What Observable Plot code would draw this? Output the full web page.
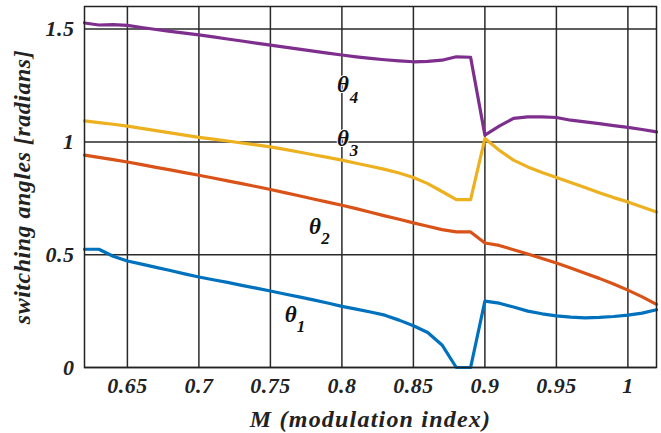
<!DOCTYPE html>
<html><head><meta charset="utf-8">
<script src="https://cdn.jsdelivr.net/npm/d3@7"></script>
<script src="https://cdn.jsdelivr.net/npm/@observablehq/plot@0.6"></script>
<style>body{margin:0;background:#fff;} svg{display:block;} g[aria-label="x-axis label"] text{letter-spacing:1.2px;}</style>
</head><body><div id="chart"></div>
<script>
const M = [0.62,0.63,0.64,0.65,0.66,0.67,0.68,0.69,0.70,0.71,0.72,0.73,0.74,0.75,0.76,0.77,0.78,0.79,0.80,0.81,0.82,0.83,0.84,0.85,0.86,0.87,0.88,0.89,0.90,0.91,0.92,0.93,0.94,0.95,0.96,0.97,0.98,0.99,1.00,1.01,1.02];
const theta1 = [0.524,0.524,0.493,0.472,0.458,0.444,0.430,0.415,0.401,0.389,0.377,0.364,0.352,0.339,0.326,0.313,0.300,0.286,0.271,0.259,0.246,0.232,0.210,0.185,0.155,0.100,0.000,0.000,0.294,0.285,0.268,0.250,0.238,0.229,0.223,0.220,0.222,0.226,0.232,0.241,0.256];
const theta2 = [0.941,0.931,0.921,0.911,0.899,0.887,0.876,0.864,0.852,0.840,0.827,0.815,0.802,0.789,0.775,0.761,0.747,0.733,0.719,0.704,0.688,0.672,0.657,0.641,0.626,0.611,0.601,0.601,0.552,0.541,0.522,0.503,0.483,0.463,0.441,0.418,0.395,0.370,0.343,0.313,0.280];
const theta3 = [1.093,1.085,1.078,1.070,1.060,1.050,1.040,1.030,1.020,1.012,1.004,0.995,0.987,0.978,0.967,0.955,0.943,0.931,0.919,0.905,0.892,0.878,0.862,0.842,0.815,0.780,0.744,0.744,1.015,0.963,0.919,0.889,0.864,0.842,0.820,0.798,0.775,0.753,0.734,0.711,0.689];
const theta4 = [1.527,1.518,1.520,1.516,1.507,1.498,1.490,1.482,1.474,1.465,1.456,1.447,1.438,1.429,1.420,1.411,1.402,1.393,1.385,1.377,1.370,1.364,1.359,1.355,1.357,1.362,1.377,1.375,1.030,1.070,1.104,1.111,1.111,1.108,1.096,1.089,1.081,1.072,1.064,1.055,1.044];
const seriesNames = ["θ1","θ2","θ3","θ4"];
const seriesColors = ["#0072BD","#D95319","#EDB120","#7E2F8E"];
const xTicks = [0.65,0.7,0.75,0.8,0.85,0.9,0.95,1];
const yTicks = [0,0.5,1,1.5];
const labelSymbols = ["θ","θ","θ","θ"];
const labelSubs = ["1","2","3","4"];
const labelX = [0.7643,0.7813,0.801,0.801];
const labelY = [0.236,0.626,1.016,1.252];
const subX = [0.7685,0.7855,0.8055,0.8055];
const subY = [0.183,0.571,0.963,1.198];

const allSeries = [theta1, theta2, theta3, theta4];
const rows = [];
allSeries.forEach((vals, i) => vals.forEach((v, j) => rows.push({M: M[j], v, s: seriesNames[i]})));
const labels = labelSymbols.map((t, i) => ({x: labelX[i], y: labelY[i], t, sx: subX[i], sy: subY[i], sub: labelSubs[i]}));

const font = "'Liberation Serif', 'Times New Roman', serif";
const fontOpts = {fontFamily: font, fontStyle: "italic", fontWeight: "bold"};
const chart = Plot.plot({
  width: 661, height: 433,
  marginLeft: 84, marginTop: 6, marginRight: 5, marginBottom: 66,
  style: "font-family: 'Liberation Serif', serif; font-style: italic; font-weight: bold; font-size: 22px; letter-spacing: 0.5px; color: #222; background: #fff;",
  x: {domain: [0.62, 1.02]},
  y: {domain: [0, 1.6]},
  color: {domain: seriesNames, range: seriesColors},
  marks: [
    Plot.gridX(xTicks, {stroke: "#2a2a2a", strokeOpacity: 1, strokeWidth: 1.5}),
    Plot.gridY(yTicks, {stroke: "#2a2a2a", strokeOpacity: 1, strokeWidth: 1.5}),
    Plot.axisX({ticks: xTicks, tickFormat: d => String(d), tickSize: 0, tickPadding: 10, fontSize: 22, ...fontOpts, fill: "#222",
      label: null}),
    Plot.axisX({ticks: [], tickSize: 0, fontSize: 24, ...fontOpts, fill: "#222",
      label: "M (modulation index)", labelAnchor: "center", labelArrow: "none", labelOffset: 59}),
    Plot.axisY({ticks: yTicks, tickFormat: d => String(d), tickSize: 0, tickPadding: 10, fontSize: 22, ...fontOpts, fill: "#222",
      label: null}),
    Plot.axisY({ticks: [], tickSize: 0, fontSize: 24, ...fontOpts, fill: "#222",
      label: "switching angles [radians]", labelAnchor: "center", labelArrow: "none", labelOffset: 72}),
    Plot.line(rows, {x: "M", y: "v", z: "s", stroke: "s", strokeWidth: 3.2, strokeLinejoin: "round"}),
    Plot.text(labels, {x: "x", y: "y", text: "t", fontSize: 23, fill: "#111", stroke: "white", strokeWidth: 2, ...fontOpts}),
    Plot.text(labels, {x: "sx", y: "sy", text: "sub", textAnchor: "start", fontSize: 17, fill: "#111", stroke: "white", strokeWidth: 2, ...fontOpts}),
    Plot.frame({stroke: "#222", strokeWidth: 1.5})
  ]
});
document.getElementById("chart").appendChild(chart);
</script></body></html>
